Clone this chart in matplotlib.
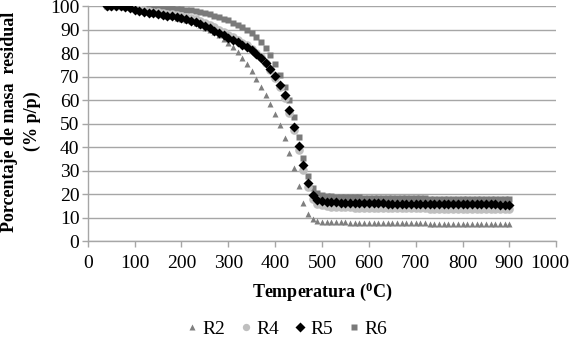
import matplotlib
matplotlib.use('Agg')
import matplotlib.pyplot as plt
from matplotlib.transforms import ScaledTranslation

plt.rcParams['font.family'] = ['Liberation Serif', 'DejaVu Serif']
plt.rcParams['mathtext.fontset'] = 'custom'
plt.rcParams['mathtext.rm'] = 'Liberation Serif'
plt.rcParams['mathtext.bf'] = 'Liberation Serif:bold'

# temperatura (C), una lectura cada 10 grados
temps = [40, 50, 60, 70, 80, 90, 100, 110, 120, 130, 140, 150, 160, 170, 180,
         190, 200, 210, 220, 230, 240, 250, 260, 270, 280, 290, 300, 310, 320,
         330, 340, 350, 360, 370, 380, 390, 400, 410, 420, 430, 440, 450, 460,
         470, 480, 490, 500, 510, 520, 530, 540, 550, 560, 570, 580, 590, 600,
         610, 620, 630, 640, 650, 660, 670, 680, 690, 700, 710, 720, 730, 740,
         750, 760, 770, 780, 790, 800, 810, 820, 830, 840, 850, 860, 870, 880,
         890, 900]

r2 = [100, 100, 100, 100, 99.9, 99.6, 99.1, 98.5, 98.0, 97.6, 97.2, 96.8, 96.4,
      96.0, 95.6, 95.1, 94.6, 94.1, 93.5, 92.8, 91.9, 90.9, 89.9, 89.0, 87.9,
      86.2, 84.4, 82.6, 80.6, 77.8, 75.2, 72.2, 69.0, 65.6, 62.1, 58.4, 54.0,
      49.4, 43.8, 37.5, 31.0, 23.6, 16.2, 11.5, 9.3, 8.6, 8.3, 8.2, 8.1, 8.1,
      8.0, 8.0, 7.9, 7.9, 7.9, 7.8, 7.8, 7.8, 7.7, 7.7, 7.7, 7.6, 7.6, 7.6, 7.6,
      7.5, 7.5, 7.5, 7.5, 7.4, 7.4, 7.4, 7.4, 7.4, 7.3, 7.3, 7.3, 7.3, 7.3, 7.3,
      7.2, 7.2, 7.2, 7.2, 7.2, 7.2, 7.1]

r4 = [100, 100, 100, 100, 99.9, 99.6, 99.2, 98.8, 98.4, 98.0, 97.7, 97.4, 97.1,
      96.8, 96.5, 96.2, 95.9, 95.5, 95.0, 94.4, 93.7, 92.9, 92.0, 91.0, 90.0,
      88.9, 87.8, 86.7, 85.6, 84.5, 83.3, 81.9, 80.2, 78.2, 75.8, 72.9, 69.5,
      65.4, 60.8, 54.6, 47.2, 38.8, 30.4, 23.0, 17.8, 15.9, 15.2, 14.9, 14.7,
      14.6, 14.5, 14.4, 14.4, 14.3, 14.3, 14.2, 14.2, 14.2, 14.1, 14.1, 14.1,
      14.0, 14.0, 14.0, 14.0, 13.9, 13.9, 13.9, 13.9, 13.8, 13.8, 13.8, 13.8,
      13.8, 13.7, 13.7, 13.7, 13.7, 13.7, 13.6, 13.6, 13.6, 13.6, 13.6, 13.6,
      13.5, 13.5]

r5 = [100, 100, 100, 100, 99.8, 99.2, 98.5, 97.9, 97.5, 97.2, 96.9, 96.6, 96.3,
      96.0, 95.7, 95.3, 94.9, 94.4, 93.8, 93.1, 92.3, 91.5, 90.6, 89.6, 88.6,
      87.6, 86.6, 85.6, 84.6, 83.6, 82.5, 81.2, 79.6, 77.8, 75.8, 73.4, 70.2,
      66.4, 62.2, 56.0, 48.6, 40.5, 32.3, 24.8, 19.6, 17.7, 17.0, 16.7, 16.6,
      16.5, 16.4, 16.4, 16.3, 16.3, 16.2, 16.2, 16.2, 16.1, 16.1, 16.1, 16.0,
      16.0, 16.0, 16.0, 15.9, 15.9, 15.9, 15.9, 15.8, 15.8, 15.8, 15.8, 15.8,
      15.7, 15.7, 15.7, 15.7, 15.7, 15.6, 15.6, 15.6, 15.6, 15.6, 15.6, 15.5,
      15.5, 15.5]

r6 = [100, 100, 100, 100, 100, 100, 99.9, 99.9, 99.8, 99.7, 99.6, 99.5, 99.4,
      99.3, 99.1, 98.9, 98.7, 98.5, 98.2, 97.9, 97.5, 97.1, 96.6, 96.0, 95.4,
      94.7, 93.9, 93.0, 92.1, 91.1, 90.0, 88.6, 86.9, 84.8, 82.2, 79.0, 75.2,
      70.9, 65.6, 60.0, 52.8, 44.2, 35.2, 27.6, 22.8, 20.4, 19.5, 19.2, 19.0,
      18.9, 18.8, 18.7, 18.7, 18.6, 18.6, 18.5, 18.5, 18.5, 18.4, 18.4, 18.4,
      18.3, 18.3, 18.3, 18.3, 18.2, 18.2, 18.2, 18.2, 18.1, 18.1, 18.1, 18.1,
      18.1, 18.0, 18.0, 18.0, 18.0, 18.0, 18.0, 17.9, 17.9, 17.9, 17.9, 17.9,
      17.9, 17.9]

fig = plt.figure(figsize=(5.74, 3.42), dpi=100)
ax = fig.add_axes([0.153, 0.295, 0.816, 0.687])

grid_c = '#a6a6a6'
ax.plot(temps, r2, ls='none', marker='^', ms=4.8, color='#7f7f7f', mec='none', label='R2', zorder=3)
ax.plot(temps, r4, ls='none', marker='o', ms=6.2, color='#bfbfbf', mec='none', label='R4', zorder=4)
ax.plot(temps, r5, ls='none', marker='D', ms=5.4, color='black', mec='none', label='R5', zorder=5)
ax.plot(temps, r6, ls='none', marker='s', ms=4.8, color='#7a7a7a', mec='none', label='R6', zorder=2)

ax.set_xlim(0, 1000)
ax.set_ylim(0, 100)
ax.set_xticks(range(0, 1001, 100))
ax.set_yticks(range(0, 101, 10))
ax.yaxis.grid(True, color=grid_c, lw=1)
ax.set_axisbelow(True)

for s in ['top', 'right']:
    ax.spines[s].set_visible(False)
for s in ['left', 'bottom']:
    ax.spines[s].set_color(grid_c)
    ax.spines[s].set_linewidth(1)
ax.tick_params(axis='both', colors=grid_c, labelcolor='black', labelsize=14,
               length=4, width=1, direction='out')
ax.tick_params(axis='x', pad=6)
ax.tick_params(axis='y', pad=2)

# the last x label sits a little to the left so it stays inside the figure
last = ax.get_xticklabels()[-1]
last.set_transform(last.get_transform() + ScaledTranslation(-6 / 100, 0, fig.dpi_scale_trans))

ax.set_xlabel(r'Temperatura ($\mathbf{^{0}}$C)', fontsize=13, fontweight='bold', labelpad=6)
fig.text(0.002, 0.645, 'Porcentaje de masa  residual\n(% p/p)', rotation=90,
         ha='left', va='center', multialignment='center', fontsize=13,
         fontweight='bold', linespacing=1.45)

fig.legend(loc='lower center', bbox_to_anchor=(0.5, -0.04), ncol=4, frameon=False,
           fontsize=14, handlelength=0.5, handletextpad=0.3, columnspacing=0.8,
           markerscale=0.85)

fig.savefig('out.png', dpi=100)
